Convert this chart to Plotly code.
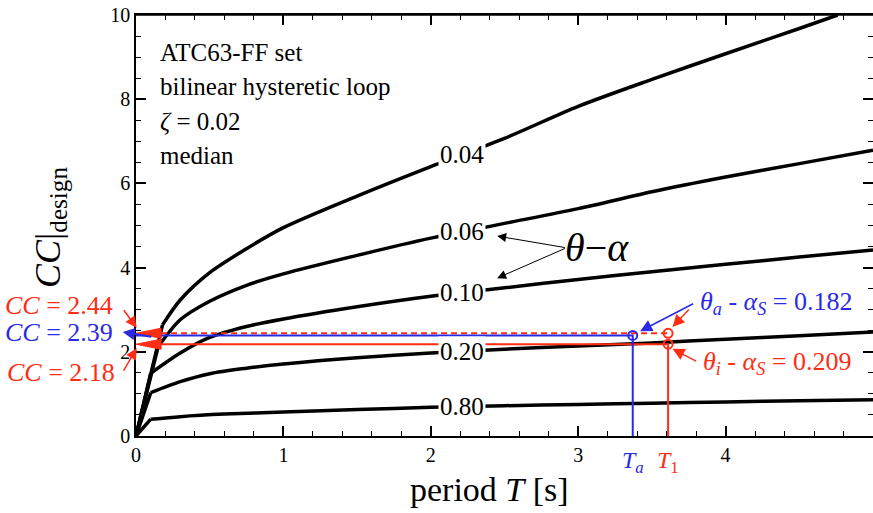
import numpy as np
import plotly.graph_objects as go

# ---------------- data ----------------
curve_names = ["0.04", "0.06", "0.10", "0.20", "0.80"]
T_004 = [0, 0.18, 0.3, 0.5, 0.75, 1.0, 1.5, 2.0, 2.5, 3.0, 3.5, 4.0, 4.5, 4.76]
CC_004 = [0, 2.64, 3.23, 3.88, 4.45, 4.95, 5.70, 6.40, 7.07, 7.83, 8.47, 9.08, 9.68, 10.0]
T_006 = [0, 0.15, 0.3, 0.5, 0.75, 1.0, 1.5, 2.0, 2.5, 3.0, 3.5, 4.0, 4.5, 5.0]
CC_006 = [0, 2.12, 2.76, 3.20, 3.58, 3.85, 4.29, 4.70, 5.05, 5.40, 5.80, 6.15, 6.47, 6.79]
T_010 = [0, 0.10, 0.3, 0.5, 0.75, 1.0, 1.5, 2.0, 2.5, 3.0, 3.5, 4.0, 4.5, 5.0]
CC_010 = [0, 1.49, 1.97, 2.34, 2.60, 2.78, 3.07, 3.32, 3.52, 3.72, 3.90, 4.08, 4.25, 4.42]
T_020 = [0, 0.10, 0.3, 0.5, 0.75, 1.0, 1.5, 2.0, 2.5, 3.0, 3.5, 4.0, 4.5, 5.0]
CC_020 = [0, 1.03, 1.29, 1.48, 1.61, 1.71, 1.86, 1.97, 2.06, 2.14, 2.21, 2.30, 2.38, 2.47]
T_080 = [0, 0.10, 0.3, 0.6, 1.0, 1.5, 2.0, 2.5, 3.0, 3.5, 4.0, 4.5, 5.0]
CC_080 = [0, 0.40, 0.46, 0.52, 0.57, 0.63, 0.68, 0.72, 0.75, 0.78, 0.81, 0.84, 0.86]
curves_T = [T_004, T_006, T_010, T_020, T_080]
curves_CC = [CC_004, CC_006, CC_010, CC_020, CC_080]
label_T = 2.21

Ta = 3.37
T1 = 3.61
CC_a = 2.39
CC_i_upper = 2.44
CC_i_lower = 2.18
theta_a = "0.182"
theta_i = "0.209"

x_ticks = [0, 1, 2, 3, 4, 5]
y_ticks = [0, 2, 4, 6, 8, 10]

info_lines = ["ATC63-FF set", "bilinear hysteretic loop", "<i>ζ</i> = 0.02", "median"]

RED = "#FF2D14"
BLUE = "#2A2AE6"
FONT = "'Liberation Serif', 'Times New Roman', 'DejaVu Serif', serif"

fig = go.Figure()

for T, CC in zip(curves_T, curves_CC):
    fig.add_trace(go.Scatter(x=T[:2], y=CC[:2], mode="lines",
                             line=dict(color="black", width=3.5), showlegend=False))
    fig.add_trace(go.Scatter(x=T[1:], y=CC[1:], mode="lines",
                             line=dict(color="black", width=3.5, shape="spline", smoothing=0.8),
                             showlegend=False))

fig.add_trace(go.Scatter(x=[0.17, T1], y=[CC_i_upper, CC_i_upper], mode="lines",
                         line=dict(color=RED, width=2, dash="6px,4px"), showlegend=False))
fig.add_trace(go.Scatter(x=[0.17, T1, T1], y=[CC_i_lower, CC_i_lower, 0], mode="lines",
                         line=dict(color=RED, width=2), showlegend=False))
fig.add_trace(go.Scatter(x=[0, Ta, Ta], y=[CC_a, CC_a, 0], mode="lines",
                         line=dict(color=BLUE, width=2), showlegend=False))

head_len, head_h = 0.17, 0.12
for cc in [CC_i_upper, CC_i_lower]:
    fig.add_trace(go.Scatter(x=[0, head_len, head_len, 0],
                             y=[cc, cc + head_h, cc - head_h, cc],
                             mode="lines", fill="toself", fillcolor=RED,
                             line=dict(color=RED, width=1), showlegend=False))

fig.add_trace(go.Scatter(x=[T1, T1], y=[CC_i_upper, CC_i_lower], mode="markers",
                         marker=dict(symbol="circle-open", size=9, color=RED,
                                     line=dict(width=2)), showlegend=False))
fig.add_trace(go.Scatter(x=[Ta], y=[CC_a], mode="markers",
                         marker=dict(symbol="circle-open", size=9, color=BLUE,
                                     line=dict(width=2)), showlegend=False))

ann = []
for name, T, CC in zip(curve_names, curves_T, curves_CC):
    ann.append(dict(x=label_T, y=float(np.interp(label_T, T, CC)), text=name,
                    showarrow=False, bgcolor="white", borderpad=1,
                    font=dict(family=FONT, size=25, color="black")))

for i, line in enumerate(info_lines):
    ann.append(dict(x=0.15, y=9.1 - i * 0.81, text=line, showarrow=False,
                    xanchor="left", yanchor="middle",
                    font=dict(family=FONT, size=25, color="black")))

ann.append(dict(x=3.13, y=4.47, text="<i>θ</i>−<i>α</i>", showarrow=False,
                font=dict(family=FONT, size=40, color="black")))
for ty in [4.75, 3.75]:
    ann.append(dict(x=2.45, y=ty, ax=2.92, ay=4.47, axref="x", ayref="y",
                    text="", showarrow=True, arrowhead=2, arrowsize=1.8,
                    arrowwidth=1, arrowcolor="black"))

ann.append(dict(x=3.81, y=3.16, text="<i>θ</i><sub><i>a</i></sub> - <i>α</i><sub><i>S</i></sub> = " + theta_a,
                showarrow=False, xanchor="left", yanchor="middle",
                font=dict(family=FONT, size=26, color=BLUE)))
ann.append(dict(x=3.83, y=1.73, text="<i>θ</i><sub><i>i</i></sub> - <i>α</i><sub><i>S</i></sub> = " + theta_i,
                showarrow=False, xanchor="left", yanchor="middle",
                font=dict(family=FONT, size=26, color=RED)))
ann.append(dict(x=Ta + 0.05, y=CC_a + 0.1, ax=3.79, ay=3.16, axref="x", ayref="y",
                text="", showarrow=True, arrowhead=2, arrowsize=1.6, arrowwidth=1.5,
                arrowcolor=BLUE))
ann.append(dict(x=T1 + 0.03, y=CC_i_upper + 0.15, ax=3.76, ay=3.04, axref="x", ayref="y",
                text="", showarrow=True, arrowhead=2, arrowsize=1.6, arrowwidth=1.5,
                arrowcolor=RED))
ann.append(dict(x=T1 + 0.03, y=CC_i_lower - 0.11, ax=3.81, ay=1.76, axref="x", ayref="y",
                text="", showarrow=True, arrowhead=2, arrowsize=1.6, arrowwidth=1.5,
                arrowcolor=RED))

ann.append(dict(x=-0.0285, y=CC_i_upper + 0.67, xref="paper", text="<i>CC</i> = %.2f" % CC_i_upper,
                showarrow=False, xanchor="right", yanchor="middle",
                font=dict(family=FONT, size=26, color=RED)))
ann.append(dict(x=-0.0285, y=CC_a + 0.08, xref="paper", text="<i>CC</i> = %.2f" % CC_a,
                showarrow=False, xanchor="right", yanchor="middle",
                font=dict(family=FONT, size=26, color=BLUE)))
ann.append(dict(x=-0.026, y=CC_i_lower - 0.68, xref="paper", text="<i>CC</i> = %.2f" % CC_i_lower,
                showarrow=False, xanchor="right", yanchor="middle",
                font=dict(family=FONT, size=26, color=RED)))
ann.append(dict(x=0.001, y=2.57, xref="paper", ax=-14, ay=-19, text="",
                showarrow=True, arrowhead=2, arrowsize=1.5, arrowwidth=1.5, arrowcolor=RED))
ann.append(dict(x=0.001, y=2.09, xref="paper", ax=-14, ay=24, text="",
                showarrow=True, arrowhead=2, arrowsize=1.5, arrowwidth=1.5, arrowcolor=RED))
ann.append(dict(x=-0.018, y=2.47, xref="paper", ax=30, ay=5, text="",
                showarrow=True, arrowhead=2, arrowsize=1.2, arrowwidth=2, arrowcolor=BLUE))

ann.append(dict(x=Ta, y=-0.062, yref="paper", text="<i>T</i><sub><i>a</i></sub>", showarrow=False,
                yanchor="middle", font=dict(family=FONT, size=24, color=BLUE)))
ann.append(dict(x=T1, y=-0.062, yref="paper", text="<i>T</i><sub>1</sub>", showarrow=False,
                yanchor="middle", font=dict(family=FONT, size=24, color=RED)))

ann.append(dict(x=0.48, y=-0.128, xref="paper", yref="paper",
                text="period <i>T</i> [s]", showarrow=False, xanchor="center", yanchor="middle",
                font=dict(family=FONT, size=34, color="black")))
ann.append(dict(x=-0.117, y=0.496, xref="paper", yref="paper",
                text="<i>CC</i>|<sub>design</sub>", showarrow=False, textangle=-90,
                xanchor="center", yanchor="middle",
                font=dict(family=FONT, size=36, color="black")))

axis_common = dict(showline=True, linecolor="black", linewidth=1.5, mirror="ticks",
                   ticks="inside", tickcolor="black", tickwidth=1.5, ticklen=10,
                   showgrid=False, zeroline=False,
                   tickfont=dict(family=FONT, size=20, color="black"))

fig.update_layout(
    width=873, height=513,
    margin=dict(l=136, r=0, t=15, b=77, autoexpand=False),
    paper_bgcolor="white", plot_bgcolor="white",
    xaxis=dict(range=[0, 5], tickmode="array", tickvals=x_ticks,
               minor=dict(dtick=0.2, ticks="inside", ticklen=5, tickcolor="black", tickwidth=1.2),
               **axis_common),
    yaxis=dict(range=[0, 10], tickmode="array", tickvals=y_ticks,
               minor=dict(dtick=0.5, ticks="inside", ticklen=5, tickcolor="black", tickwidth=1.2),
               **axis_common),
    shapes=[dict(type="line", xref="paper", yref="paper", x0=0, x1=1, y0=1, y1=1,
                 line=dict(color="black", width=1.5))],
    annotations=ann,
    showlegend=False,
)

fig.write_html("out.html")
